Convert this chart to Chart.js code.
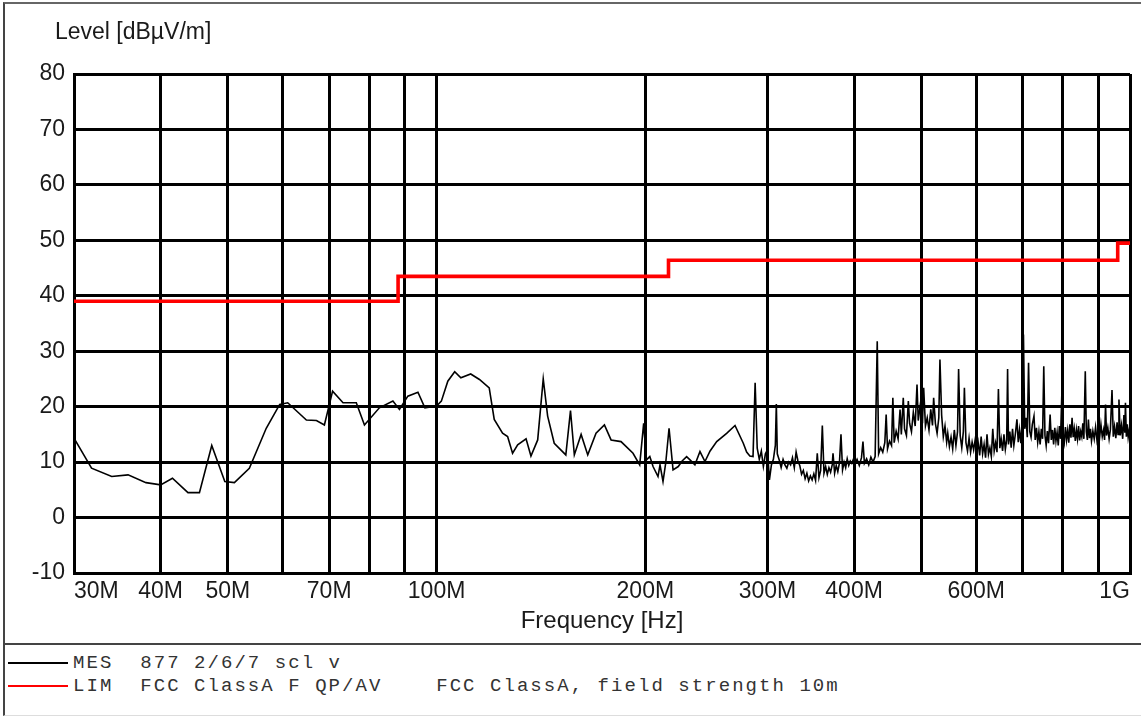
<!DOCTYPE html>
<html>
<head>
<meta charset="utf-8">
<script src="https://cdn.jsdelivr.net/npm/chart.js@4.4.0/dist/chart.umd.min.js"></script>
<style>
  html, body { margin: 0; padding: 0; background: #fff; }
  body { width: 1141px; height: 717px; position: relative; overflow: hidden; }
  .frame { position: absolute; left: 3px; top: 2px; width: 1150px; height: 711px;
           border-left: 2px solid #444; border-top: 2px solid #666; border-bottom: 1px solid #ddd; }
  .plot { position: absolute; left: 0; top: 0; width: 1141px; height: 644px; }
  .sep { position: absolute; left: 3px; top: 643px; width: 1150px; height: 2px; background: #444; }
  .legend { position: absolute; left: 8px; top: 651px; font-family: 'Liberation Mono', 'Courier New', monospace;
            font-size: 19px; letter-spacing: 2.05px; color: #333; }
  .legend .row { height: 23.5px; display: flex; align-items: center; }
  .legend .txt { white-space: pre; }
  .legend .swatch { width: 60px; height: 2px; margin-right: 5px; flex: none; }
</style>
</head>
<body>
<div class="frame"></div>
<div class="plot"><canvas id="emi"></canvas></div>
<div class="sep"></div>
<div class="legend">
  <div class="row"><span class="swatch" style="background:#000"></span><span class="txt">MES  877 2/6/7 scl v</span></div>
  <div class="row"><span class="swatch" style="background:#f00"></span><span class="txt">LIM  FCC ClassA F QP/AV    FCC ClassA, field strength 10m</span></div>
</div>
<script>
// frequency in MHz, level in dBuV/m
const mesLow = [
  [30, 14.3], [31.8, 8.9], [34, 7.4], [35.9, 7.7], [38.1, 6.3], [40, 5.9], [41.6, 7.1], [43.8, 4.5],
  [45.5, 4.5], [47.4, 13.0], [49.5, 6.5], [51.1, 6.3], [53.7, 8.9], [56.8, 16.1], [59.4, 20.4], [61, 20.7],
  [64.9, 17.6], [67.1, 17.5], [68.9, 16.7], [70.8, 22.8], [73.3, 20.7], [76.6, 20.7], [78.7, 16.7],
  [82.7, 19.8], [86.5, 21.0], [88.4, 19.5], [90.9, 21.9], [94, 22.6], [96.2, 19.8], [100, 20.1],
  [101.6, 21], [103.8, 24.6], [106.2, 26.3]
]
const mesMid = [
  [108.4, 25.2], [112, 25.9], [115.3, 24.9], [119.1, 23.4], [121.1, 17.7], [124.5, 15.2], [126.6, 14.6],
  [128.7, 11.6], [130.9, 13.1], [134.6, 14.2], [136.8, 11.1], [139.9, 14], [142.5, 25], [144.6, 18.3],
  [147.8, 13.4], [153.6, 11.3], [156, 19.3], [158, 11.3], [161.6, 15], [165.2, 11.3], [169.8, 15.2],
  [174.6, 16.7], [178.5, 14], [184.5, 13.7], [192, 11.6], [196.3, 9.5], [198.9, 17], [200.7, 10.4],
  [203, 11], [205.2, 9.2], [208.6, 7.4], [210, 9.5], [212.1, 6.5], [214, 9.8], [216.4, 16.1], [219.3, 8.6],
  [223.1, 9.2], [226, 10.2], [229.4, 11], [232, 10.4], [235.8, 9.5], [239.8, 11.9], [243.8, 10.1],
  [248, 12], [253.5, 13.7], [262, 15.2], [269.4, 16.6], [276.9, 13.4], [280, 11.8]
]
const mesHighA = [
  [283, 11.1], [286, 11], [288, 24.3], [290, 12.5], [292, 10.5], [294, 12], [296, 9.2], [298, 11.5],
  [300, 12.2], [302, 6.8], [304, 9.5], [306, 10.5], [308, 13], [309, 20.5], [310, 11.5], [312, 10.4],
  [314, 9], [316, 10.5], [318, 9.5], [320, 8.9], [322, 10], [324, 9.5], [326, 10.8], [328, 9],
  [330, 11.8], [332, 10.2], [334, 9.4], [336, 7.8], [338, 8.5], [340, 7], [342, 8], [344, 6.6],
  [346, 7.5], [348, 6.8], [350, 7.9], [352, 6.7], [354, 11.6], [356, 7.2], [358, 8.5], [360, 16.6],
  [362, 8], [364, 9.2], [366, 7.8], [368, 9], [370, 8.2], [372, 9.5], [373, 11.6], [375, 8],
  [377, 9.4], [379, 8.3], [381, 9.8], [383, 15], [385, 8.6], [387, 10], [389, 9], [391, 10.6],
  [393, 9.4], [395, 10.2], [397, 9.8], [399, 10.5]
]
const mesHighB = [
  [401, 9.6], [404, 10.5], [407, 9.4], [410, 10.8], [412, 13.7], [414, 9.8], [417, 10.6], [420, 9.5],
  [423, 10.9], [426, 10], [429, 11], [432, 31.8], [434, 11.5], [437, 12.6], [440, 11.8], [443, 13.5],
  [445, 18.6], [447, 12.4], [450, 13.8], [453, 13], [455, 21.6], [457, 13.5], [460, 15.6], [463, 14.2],
  [466, 19.5], [468, 15], [471, 21.6], [473, 16], [476, 14.8], [479, 21], [481, 17], [484, 15.5],
  [487, 19], [490, 16.5], [493, 24], [495, 17.5], [498, 20], [502, 17], [504, 23.4], [507, 16.5],
  [510, 18], [513, 15.8], [516, 19.5], [519, 16.6], [521, 21.6], [524, 17], [527, 15.2], [530, 18],
  [532, 28.5], [535, 18.5], [538, 14.6], [541, 16.5], [544, 13.6], [546, 15.2], [549, 12.8], [552, 14.5],
  [555, 12.4], [558, 15.8], [561, 13], [564, 15.5], [566, 26.8], [569, 14.8], [572, 12.6], [575, 15.5],
  [577, 23.4], [580, 13.5], [583, 12], [586, 14.3], [589, 11.8], [592, 13.6], [595, 12.2], [598, 14],
  [601, 11.6]
]
const mesHighC = [
  [604, 13.5], [607, 11.2], [610, 14.6], [613, 11.5], [616, 13.2], [619, 10.8], [622, 15], [625, 11.4],
  [628, 12.6], [631, 11], [634, 16], [637, 12], [640, 13.5], [643, 11.8], [646, 23.2], [649, 12.5],
  [652, 14.2], [655, 12], [658, 15], [661, 12.3], [664, 14], [666, 26.8], [668, 13.2], [671, 15.5],
  [674, 12.6], [677, 16], [680, 13], [683, 14.8], [687, 17.7], [690, 13.6], [693, 15.8], [696, 13.4],
  [699, 17], [702, 33], [705, 16], [708, 18], [711, 14.5], [714, 27.9], [717, 15.5], [720, 14.5],
  [723, 16.8], [727, 18.3], [730, 14], [733, 16.2], [736, 13.6], [739, 15.5], [742, 13.2], [745, 16],
  [748, 14.2], [751, 27.3], [754, 14.8], [757, 13], [760, 15.6], [763, 13.4], [767, 18.6], [770, 14],
  [773, 15.8], [776, 13.2], [779, 16.2], [782, 13.8], [785, 15.4], [788, 13], [791, 16.5], [794, 14.2],
  [798, 23.7], [801, 15], [804, 13.6], [807, 16.3], [810, 14], [813, 15.7], [816, 13.5], [819, 16.8],
  [822, 14.4], [825, 18], [828, 14.5], [831, 16], [834, 13.8], [837, 15.8], [840, 14.2], [843, 16.5],
  [846, 13.9], [849, 15.5], [852, 14.6], [855, 17], [858, 14.2], [862, 26.4], [865, 15.5], [868, 14],
  [871, 17.7], [874, 14.3], [877, 16], [880, 13.8], [884, 15.6], [888, 14.2], [892, 16.3], [896, 14],
  [900, 15.5], [904, 14.4], [908, 16.8], [912, 14.6], [916, 15.8], [919, 14], [922, 20.4], [925, 14.8],
  [929, 16.2], [933, 14.2], [937, 15.9], [942, 23], [946, 14.6], [950, 16.4], [954, 14.3], [958, 17.2],
  [961, 15], [964, 21.3], [968, 14.8], [972, 16.6], [976, 14.2], [980, 18.5], [983, 15.3], [985, 20.7],
  [988, 14.6], [991, 16.8], [994, 14.5], [997, 15.6], [1000, 14.3]
]

// FCC Class A, 10 m limit (step starts at each frequency)
const limFreq = [30, 88, 216, 960, 1000]
const limLevel = [39, 43.5, 46.4, 49.5, 49.5]

const xGridMHz = [30, 40, 50, 60, 70, 80, 90, 100, 200, 300, 400, 500, 600, 700, 800, 900, 1000]
const xTickLabels = ['30M', '40M', '50M', '', '70M', '', '', '100M', '200M', '300M', '400M', '', '600M', '', '', '', '1G']

const FONT = "'Liberation Sans', Arial, sans-serif"
const TEXT = '#1a1a1a'

const mesData = [...mesLow, ...mesMid, ...mesHighA, ...mesHighB, ...mesHighC].map(([x, y]) => ({ x, y }))
const limData = limFreq.map((x, i) => ({ x, y: limLevel[i] }))

new Chart(document.getElementById('emi'), {
    type: 'line',
    data: {
        datasets: [
            {
                label: 'MES 877 2/6/7 scl v',
                data: mesData,
                borderColor: '#000',
                borderWidth: 1.6,
                pointRadius: 0,
                tension: 0,
                order: 2
            },
            {
                label: 'LIM FCC ClassA F QP/AV',
                data: limData,
                borderColor: '#ff0000',
                borderWidth: 3.6,
                stepped: 'before',
                pointRadius: 0,
                order: 1
            }
        ]
    },
    options: {
        responsive: true,
        maintainAspectRatio: false,
        animation: false,
        layout: { padding: { left: 23, right: 11, top: 0, bottom: 0 }, autoPadding: false },
        plugins: {
            legend: { display: false },
            tooltip: { enabled: false },
            title: {
                display: true,
                // leading spaces push the unit label over the axis, as in the print
                text: '     Level [dBµV/m]',
                align: 'start',
                color: TEXT,
                font: { family: FONT, size: 23, weight: 'normal' },
                padding: { top: 19, bottom: 27.4 }
            }
        },
        scales: {
            x: {
                type: 'logarithmic',
                min: 30,
                max: 1000,
                afterBuildTicks: s => { s.ticks = xGridMHz.map(v => ({ value: v })) },
                afterFit: s => { s.height = 71 },
                ticks: {
                    autoSkip: false,
                    maxRotation: 0,
                    align: 'inner',
                    padding: 5,
                    color: TEXT,
                    font: { family: FONT, size: 23 },
                    callback: v => xTickLabels[xGridMHz.indexOf(v)] ?? ''
                },
                grid: { color: '#000', lineWidth: 3, drawTicks: false },
                border: { color: '#000', width: 3 },
                title: {
                    display: true,
                    text: 'Frequency [Hz]',
                    color: TEXT,
                    font: { family: FONT, size: 24 },
                    padding: { top: 0, bottom: 8 }
                }
            },
            y: {
                min: -10,
                max: 80,
                afterFit: s => { s.width = 51 },
                ticks: {
                    stepSize: 10,
                    padding: 9,
                    color: TEXT,
                    font: { family: FONT, size: 23 }
                },
                grid: { color: '#000', lineWidth: 3, drawTicks: false },
                border: { color: '#000', width: 3 }
            }
        }
    }
})
</script>
</body>
</html>
